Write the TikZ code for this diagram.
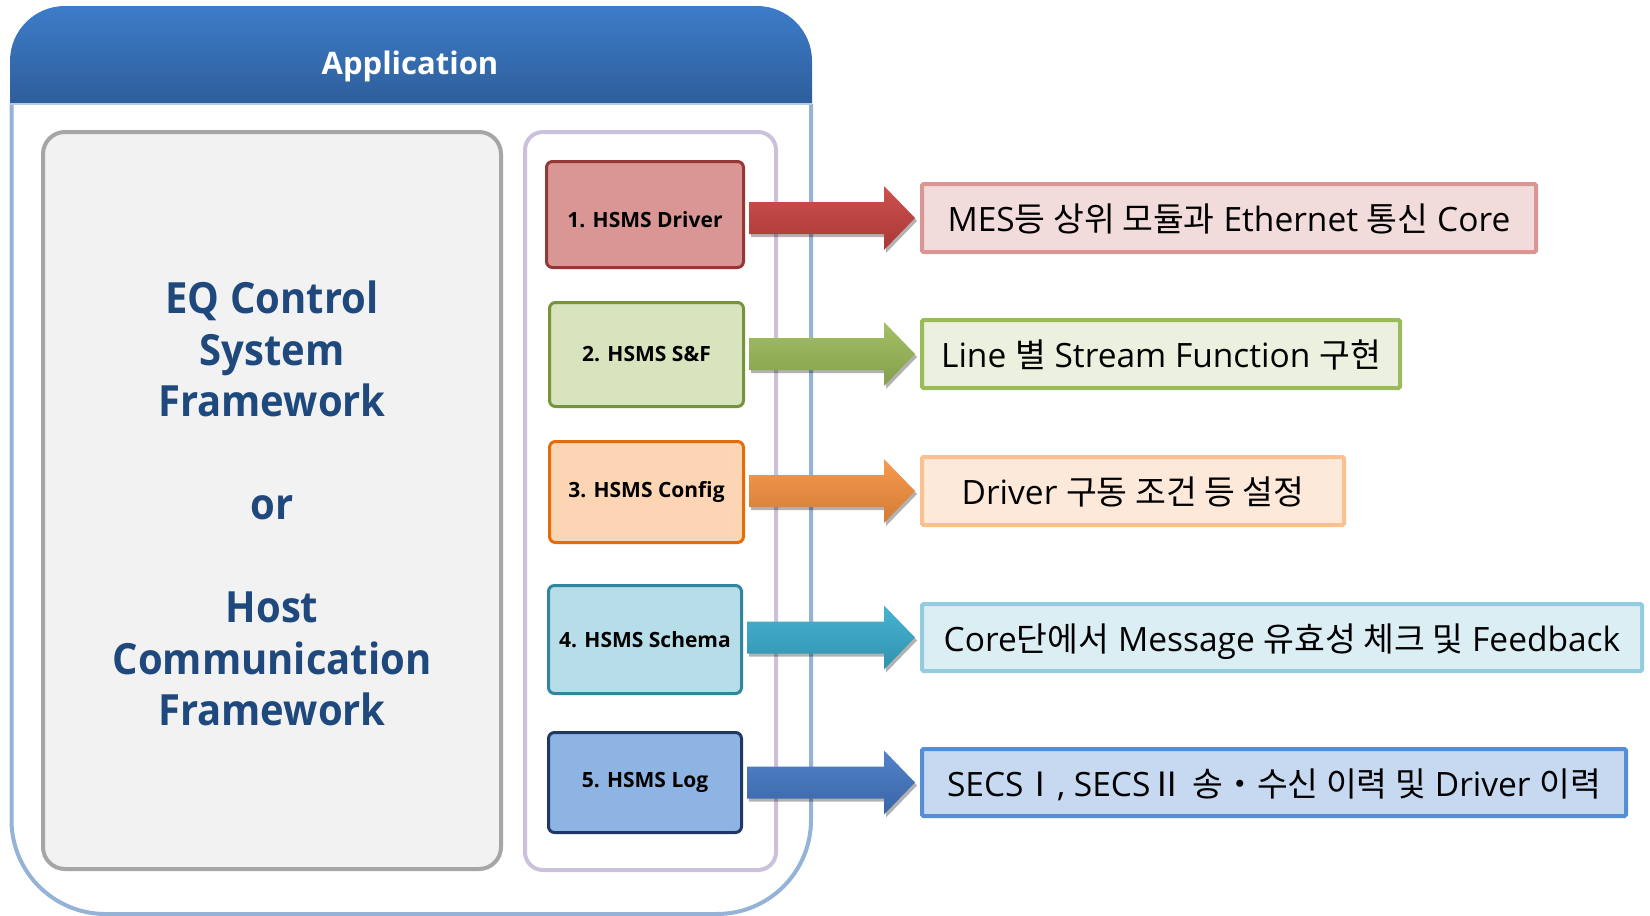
\documentclass[tikz,border=0pt]{standalone}
\usepackage{fontspec}
\setmainfont{Open Sans}
\newfontfamily\kr{Noto Sans CJK KR}
\newfontfamily\eqfont[FakeStretch=0.93]{Open Sans}
\usetikzlibrary{calc,shadows}

\definecolor{hdrtop}{HTML}{3D7CC9}
\definecolor{hdrbot}{HTML}{2E5E9A}
\definecolor{outerln}{HTML}{95B3D7}
\definecolor{grayln}{HTML}{A6A6A6}
\definecolor{grayfill}{HTML}{F2F2F2}
\definecolor{lavln}{HTML}{CCC1DA}
\definecolor{eqtext}{HTML}{1F497D}
\definecolor{bAfill}{HTML}{D99694}\definecolor{bAln}{HTML}{953735}
\definecolor{bBfill}{HTML}{D7E4BD}\definecolor{bBln}{HTML}{77933C}
\definecolor{bCfill}{HTML}{FCD5B5}\definecolor{bCln}{HTML}{E46C0A}
\definecolor{bDfill}{HTML}{B7DEE8}\definecolor{bDln}{HTML}{31859C}
\definecolor{bEfill}{HTML}{8EB4E3}\definecolor{bEln}{HTML}{1F3864}
\definecolor{rAfill}{HTML}{F2DCDB}\definecolor{rAln}{HTML}{D99694}
\definecolor{rBfill}{HTML}{EBF1DE}\definecolor{rBln}{HTML}{9BBB59}
\definecolor{rCfill}{HTML}{FDE9D9}\definecolor{rCln}{HTML}{FAC090}
\definecolor{rDfill}{HTML}{DBEEF4}\definecolor{rDln}{HTML}{93CDDD}
\definecolor{rEfill}{HTML}{C6D9F1}\definecolor{rEln}{HTML}{558ED5}
\definecolor{arA}{HTML}{C8423F}
\definecolor{arB}{HTML}{9BBB59}
\definecolor{arC}{HTML}{F7913F}
\definecolor{arD}{HTML}{38ACCD}
\definecolor{arE}{HTML}{4377C4}

\newcommand\blockarrow[3]{%
  \path[arrowsty=#3] let \p1=(#1.east), \p2=(#2.west) in
    (\x1+4pt,\y2+16pt) -- (\x2-36pt,\y2+16pt) -- (\x2-36pt,\y2+32pt)
    -- (\x2-5pt,\y2) -- (\x2-36pt,\y2-32pt) -- (\x2-36pt,\y2-16pt)
    -- (\x1+4pt,\y2-16pt) -- cycle;}

\begin{document}
\begin{tikzpicture}[x=1pt,y=-1pt,
  hbox/.style={draw, rounded corners=6pt, line width=3pt, inner sep=0pt,
    font=\fontsize{21}{25}\selectfont\bfseries, text=black},
  rbox/.style={draw, line width=4pt, inner sep=0pt, rounded corners=1.5pt,
    text height=27pt, text depth=0pt,
    font=\fontsize{33.5}{38}\selectfont, text=black},
  arrowsty/.style={top color=#1!92!white, bottom color=#1!85!black, draw=none,
    drop shadow={shadow xshift=2pt, shadow yshift=-3pt, opacity=0.3, fill=black}}
]
\useasboundingbox (0,0) rectangle (1650,916);
\fill[white] (0,0) rectangle (1650,916);

% header
\shade[top color=hdrtop, bottom color=hdrbot]
  (10,104) -- (10,61) arc[start angle=180,end angle=270,radius=55]
  -- (757,6) arc[start angle=270,end angle=360,radius=55] -- (812,104) -- cycle;
\node[text=white, font=\fontsize{31}{36}\selectfont\bfseries] (app) at (410,66) {Application};

% outer container
\draw[outerln, line width=4pt]
  (11.5,104) -- (11.5,820) arc[start angle=180,end angle=90,radius=94]
  -- (717,914) arc[start angle=90,end angle=0,radius=94] -- (811,104);
\draw[outerln!70!white, line width=2pt] (10,104) -- (812,104);

% left framework box
\node[draw=grayln, fill=grayfill, line width=4pt, rounded corners=22pt,
  minimum width=458pt, minimum height=737pt, inner sep=0pt] (eq) at (272,500.5) {};
\node[align=center, text=eqtext, inner sep=0pt,
  font=\eqfont\fontsize{43}{51.5}\selectfont\bfseries] (eqtxt) at (272,503.5)
  {EQ Control\\System\\Framework\\[51.5pt]or\\[51.5pt]Host\\Communication\\Framework};

% HSMS container
\node[draw=lavln, fill=white, line width=4pt, rounded corners=18pt,
  minimum width=251pt, minimum height=738pt] (hsms) at (650.5,501) {};

% HSMS boxes
\node[hbox, draw=bAln, fill=bAfill, minimum width=197pt, minimum height=106pt,
  text height=26pt, text depth=0pt] (b1) at (645,214.5) {1. HSMS Driver};
\node[hbox, draw=bBln, fill=bBfill, minimum width=194pt, minimum height=104pt] (b2) at (646.5,354.5) {2. HSMS S\&F};
\node[hbox, draw=bCln, fill=bCfill, minimum width=194pt, minimum height=101pt] (b3) at (646.5,492) {3. HSMS Config};
\node[hbox, draw=bDln, fill=bDfill, minimum width=193pt, minimum height=108pt] (b4) at (645,639.5) {4. HSMS Schema};
\node[hbox, draw=bEln, fill=bEfill, minimum width=193pt, minimum height=100pt] (b5) at (645,782.5) {5. HSMS Log};

% description boxes
\node[rbox, draw=rAln, fill=rAfill, minimum width=614pt, minimum height=68pt] (r1) at (1229,218)
  {MES{\kr 등 상위 모듈과} Ethernet {\kr 통신} Core};
\node[rbox, draw=rBln, fill=rBfill, minimum width=478pt, minimum height=68pt] (r2) at (1161,354)
  {Line {\kr 별} Stream Function {\kr 구현}};
\node[rbox, draw=rCln, fill=rCfill, minimum width=422pt, minimum height=68pt] (r3) at (1133,491)
  {Driver {\kr 구동 조건 등 설정}};
\node[rbox, draw=rDln, fill=rDfill, minimum width=720pt, minimum height=67pt] (r4) at (1282,637.5)
  {Core{\kr 단에서} Message {\kr 유효성 체크 및} Feedback};
\node[rbox, draw=rEln, fill=rEfill, minimum width=704pt, minimum height=67pt] (r5) at (1274,782.5)
  {SECS{\kr Ⅰ}, SECS{\kr Ⅱ} {\kr 송・수신 이력 및} Driver {\kr 이력}};

% arrows
\blockarrow{b1}{r1}{arA}
\blockarrow{b2}{r2}{arB}
\blockarrow{b3}{r3}{arC}
\blockarrow{b4}{r4}{arD}
\blockarrow{b5}{r5}{arE}
\end{tikzpicture}
\end{document}
